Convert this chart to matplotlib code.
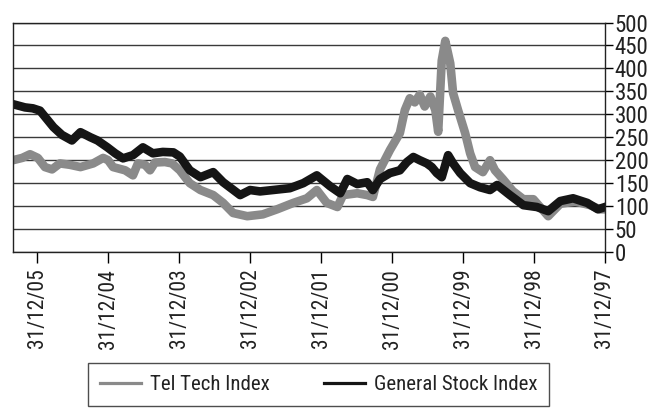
import matplotlib
matplotlib.use('Agg')
from matplotlib import pyplot as plt
from matplotlib import font_manager
from matplotlib.lines import Line2D

# decimal years (31/12/97 = 1998.0) and index values
gen_years = [2006.34, 2006.17, 2006.06, 2005.96, 2005.77, 2005.65, 2005.51, 2005.39,
             2005.25, 2005.15, 2005.01, 2004.90, 2004.79, 2004.65, 2004.51, 2004.37,
             2004.23, 2004.08, 2003.99, 2003.85, 2003.70, 2003.52, 2003.38, 2003.14,
             2003.00, 2002.86, 2002.68, 2002.44, 2002.25, 2002.06, 2001.87, 2001.73,
             2001.63, 2001.49, 2001.35, 2001.27, 2001.17, 2001.03, 2000.89, 2000.79,
             2000.70, 2000.61, 2000.51, 2000.44, 2000.37, 2000.30, 2000.21, 2000.14,
             2000.04, 1999.90, 1999.76, 1999.62, 1999.52, 1999.34, 1999.15, 1998.96,
             1998.80, 1998.63, 1998.45, 1998.25, 1998.10, 1998.00]
gen_values = [322, 315, 313, 308, 272, 255, 243, 261,
              250, 243, 228, 215, 204, 211, 228, 215,
              218, 217, 208, 178, 163, 174, 152, 124,
              135, 132, 135, 139, 150, 167, 143, 128,
              159, 148, 152, 135, 159, 172, 178, 196,
              207, 200, 193, 185, 172, 163, 211, 193,
              172, 150, 141, 135, 146, 124, 102, 98,
              89, 111, 117, 107, 93, 98]

tech_years = [2006.34, 2006.21, 2006.10, 2005.99, 2005.89, 2005.79, 2005.68, 2005.54,
              2005.39, 2005.21, 2005.07, 2005.00, 2004.93, 2004.76, 2004.65, 2004.58,
              2004.48, 2004.41, 2004.34, 2004.20, 2004.10, 2003.99, 2003.85, 2003.70,
              2003.52, 2003.38, 2003.24, 2003.04, 2002.82, 2002.62, 2002.39, 2002.20,
              2002.06, 2001.92, 2001.77, 2001.69, 2001.49, 2001.35, 2001.27, 2001.17,
              2001.03, 2000.89, 2000.82, 2000.75, 2000.68, 2000.61, 2000.54, 2000.46,
              2000.39, 2000.35, 2000.30, 2000.25, 2000.18, 2000.14, 2000.07, 1999.97,
              1999.90, 1999.83, 1999.72, 1999.62, 1999.55, 1999.44, 1999.30, 1999.15,
              1999.01, 1998.80, 1998.63, 1998.42, 1998.21, 1998.07, 1998.00]
tech_values = [200, 205, 213, 205, 185, 180, 193, 190,
               185, 193, 205, 200, 185, 178, 167, 193,
               190, 178, 195, 196, 193, 178, 150, 135,
               124, 107, 85, 78, 82, 93, 107, 117,
               135, 107, 98, 124, 128, 124, 120, 180,
               222, 259, 309, 335, 326, 343, 317, 339,
               309, 262, 417, 460, 411, 346, 309, 259,
               215, 185, 174, 200, 178, 159, 133, 115,
               115, 78, 105, 110, 102, 93, 93]

tick_years = [2006, 2005, 2004, 2003, 2002, 2001, 2000, 1999, 1998]
tick_labels = ['31/12/05', '31/12/04', '31/12/03', '31/12/02', '31/12/01',
               '31/12/00', '31/12/99', '31/12/98', '31/12/97']
y_ticks = list(range(0, 501, 50))

# narrow font if there is one, otherwise fall back
have = {f.name for f in font_manager.fontManager.ttflist}
wanted = ['Liberation Sans Narrow', 'Arial Narrow', 'Roboto Condensed',
          'DejaVu Sans Condensed', 'Roboto', 'Liberation Sans']
fam = [n for n in wanted if n in have][:1] or ['DejaVu Sans']
plt.rcParams['font.family'] = fam + ['DejaVu Sans']
narrow = fam[0] in ('Liberation Sans Narrow', 'Arial Narrow', 'Roboto Condensed')
fs_xtick = 15.5 if narrow else 12
fs_ytick = 16.5 if narrow else 12
fs_leg = 15 if narrow else 12.5

text_col = '#222222'
gray = '#8a8a8a'
black = '#151515'

fig = plt.figure(figsize=(6.58, 4.08), dpi=100)
ax = fig.add_axes([13 / 658, 1 - 252 / 408, (605 - 13) / 658, (252 - 22.5) / 408])

ax.plot(tech_years, tech_values, color=gray, lw=6.2, solid_joinstyle='round')
ax.plot(gen_years, gen_values, color=black, lw=6.2, solid_joinstyle='round')

ax.set_xlim(2006.34, 1998.0)
ax.set_ylim(0, 500)
ax.set_xticks(tick_years)
ax.set_xticklabels(tick_labels, rotation=90, fontsize=fs_xtick, color=text_col)
ax.set_yticks(y_ticks)
ax.yaxis.tick_right()
ax.tick_params(axis='y', labelsize=fs_ytick, labelcolor=text_col, length=6, width=1, pad=1)
ax.tick_params(axis='x', length=8, width=1, pad=4)
ax.grid(axis='y', color='#3a3a3a', lw=1)
ax.set_axisbelow(True)
for s in ax.spines.values():
    s.set_linewidth(1)
    s.set_color('#222222')

handles = [Line2D([], [], color=gray, lw=2.3), Line2D([], [], color=black, lw=2.3)]
leg = fig.legend(handles, ['Tel Tech Index', 'General Stock Index'], loc='upper center',
                 bbox_to_anchor=(0.484, 1 - 363 / 408), ncol=2, fontsize=fs_leg,
                 frameon=True, fancybox=False, edgecolor='#222222', handlelength=2.0,
                 columnspacing=2.6, borderpad=0.58, handletextpad=0.4, borderaxespad=0)
leg.get_frame().set_linewidth(1)
for t in leg.get_texts():
    t.set_color(text_col)

plt.savefig('out.png', dpi=100)
